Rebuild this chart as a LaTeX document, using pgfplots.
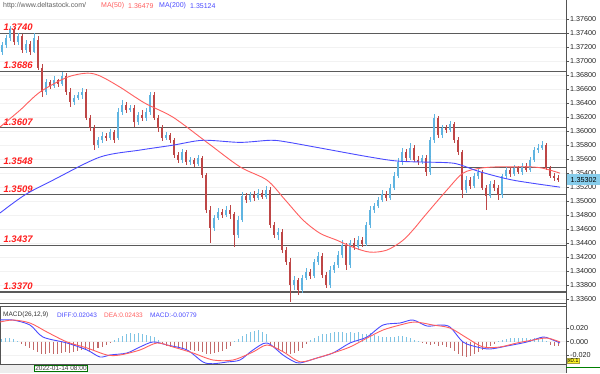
\documentclass[border=0pt]{standalone}
\usepackage{fontspec}
\setmainfont{Liberation Sans}
\usepackage{pgfplots}
\pgfplotsset{compat=1.18}
\usepackage{pgfplotstable}

\definecolor{upc}{RGB}{95,180,225}
\definecolor{dnc}{RGB}{190,70,70}
\definecolor{maA}{RGB}{255,95,95}
\definecolor{maB}{RGB}{75,75,255}
\definecolor{lvl}{RGB}{90,90,90}
\definecolor{lvltxt}{RGB}{255,30,30}
\definecolor{hup}{RGB}{125,195,228}
\definecolor{hdn}{RGB}{195,105,105}
\definecolor{pbox}{RGB}{135,205,235}

\pgfplotstableread{
x o h l c
2 1.3713 1.3728 1.3709 1.3723
6 1.3723 1.3738 1.3719 1.3733
10 1.3733 1.3750 1.3729 1.3745
14 1.3745 1.3748 1.3723 1.3728
18 1.3728 1.3740 1.3723 1.3736
22 1.3736 1.3739 1.3712 1.3716
26 1.3716 1.3730 1.3712 1.3725
30 1.3725 1.3729 1.3709 1.3713
34 1.3713 1.3740 1.3712 1.3733
38 1.3730 1.3736 1.3688 1.3690
42 1.3690 1.3696 1.3649 1.3656
46 1.3656 1.3675 1.3652 1.3670
50 1.3670 1.3673 1.3660 1.3665
54 1.3665 1.3679 1.3662 1.3673
58 1.3673 1.3675 1.3663 1.3667
62 1.3667 1.3685 1.3665 1.3679
66 1.3679 1.3683 1.3652 1.3656
70 1.3656 1.3662 1.3635 1.3642
74 1.3642 1.3652 1.3637 1.3648
78 1.3648 1.3656 1.3645 1.3652
82 1.3652 1.3662 1.3646 1.3656
86 1.3656 1.3660 1.3616 1.3619
90 1.3619 1.3623 1.3600 1.3605
94 1.3605 1.3609 1.3573 1.3580
98 1.3580 1.3592 1.3576 1.3587
102 1.3587 1.3599 1.3583 1.3593
106 1.3593 1.3597 1.3586 1.3590
110 1.3590 1.3603 1.3587 1.3599
114 1.3599 1.3602 1.3583 1.3587
118 1.3590 1.3633 1.3587 1.3627
122 1.3627 1.3645 1.3623 1.3637
126 1.3637 1.3642 1.3626 1.3630
130 1.3630 1.3637 1.3627 1.3633
134 1.3633 1.3637 1.3606 1.3613
138 1.3613 1.3627 1.3609 1.3623
142 1.3623 1.3630 1.3615 1.3619
146 1.3619 1.3633 1.3615 1.3627
150 1.3627 1.3656 1.3623 1.3652
154 1.3652 1.3656 1.3616 1.3619
158 1.3619 1.3623 1.3599 1.3605
162 1.3605 1.3609 1.3586 1.3590
166 1.3590 1.3599 1.3587 1.3595
170 1.3595 1.3597 1.3583 1.3587
174 1.3587 1.3590 1.3562 1.3566
178 1.3566 1.3570 1.3555 1.3559
182 1.3559 1.3575 1.3555 1.3570
186 1.3570 1.3573 1.3552 1.3556
190 1.3556 1.3563 1.3552 1.3559
194 1.3559 1.3562 1.3549 1.3553
198 1.3553 1.3566 1.3550 1.3562
202 1.3562 1.3565 1.3533 1.3537
206 1.3537 1.3540 1.3483 1.3487
210 1.3487 1.3493 1.3440 1.3462
214 1.3462 1.3480 1.3457 1.3476
218 1.3476 1.3490 1.3473 1.3484
222 1.3484 1.3489 1.3476 1.3480
226 1.3480 1.3493 1.3477 1.3487
230 1.3487 1.3494 1.3474 1.3481
234 1.3481 1.3484 1.3434 1.3452
238 1.3452 1.3479 1.3447 1.3473
242 1.3473 1.3513 1.3470 1.3507
246 1.3507 1.3512 1.3497 1.3502
250 1.3502 1.3513 1.3499 1.3509
254 1.3509 1.3514 1.3500 1.3505
258 1.3505 1.3517 1.3502 1.3512
262 1.3512 1.3516 1.3503 1.3506
266 1.3506 1.3522 1.3503 1.3516
270 1.3516 1.3520 1.3462 1.3466
274 1.3466 1.3470 1.3447 1.3452
278 1.3452 1.3462 1.3444 1.3456
282 1.3456 1.3460 1.3426 1.3430
286 1.3430 1.3434 1.3409 1.3413
290 1.3413 1.3419 1.3356 1.3380
294 1.3380 1.3393 1.3373 1.3387
298 1.3387 1.3390 1.3366 1.3373
302 1.3373 1.3394 1.3369 1.3390
306 1.3390 1.3404 1.3387 1.3399
310 1.3399 1.3403 1.3388 1.3393
314 1.3393 1.3417 1.3390 1.3413
318 1.3413 1.3427 1.3409 1.3422
322 1.3422 1.3426 1.3390 1.3394
326 1.3394 1.3399 1.3376 1.3380
330 1.3380 1.3407 1.3376 1.3401
334 1.3401 1.3413 1.3397 1.3409
338 1.3409 1.3429 1.3404 1.3423
342 1.3423 1.3444 1.3419 1.3437
346 1.3437 1.3440 1.3401 1.3409
350 1.3409 1.3444 1.3404 1.3440
354 1.3440 1.3447 1.3430 1.3434
358 1.3434 1.3450 1.3430 1.3444
362 1.3444 1.3449 1.3434 1.3439
366 1.3439 1.3470 1.3436 1.3466
370 1.3466 1.3493 1.3462 1.3487
374 1.3487 1.3497 1.3483 1.3493
378 1.3493 1.3506 1.3490 1.3502
382 1.3502 1.3516 1.3499 1.3510
386 1.3510 1.3514 1.3500 1.3505
390 1.3505 1.3524 1.3502 1.3519
394 1.3519 1.3542 1.3516 1.3536
398 1.3536 1.3562 1.3533 1.3556
402 1.3556 1.3576 1.3552 1.3570
406 1.3570 1.3575 1.3557 1.3562
410 1.3562 1.3583 1.3559 1.3576
414 1.3576 1.3580 1.3556 1.3559
418 1.3559 1.3565 1.3552 1.3556
422 1.3556 1.3566 1.3553 1.3562
426 1.3562 1.3566 1.3536 1.3542
430 1.3542 1.3592 1.3537 1.3587
434 1.3587 1.3625 1.3583 1.3619
438 1.3619 1.3622 1.3590 1.3595
442 1.3595 1.3609 1.3590 1.3605
446 1.3605 1.3609 1.3597 1.3602
450 1.3602 1.3615 1.3599 1.3610
454 1.3610 1.3613 1.3583 1.3587
458 1.3587 1.3592 1.3566 1.3570
462 1.3570 1.3573 1.3505 1.3516
466 1.3516 1.3536 1.3512 1.3530
470 1.3530 1.3535 1.3517 1.3522
474 1.3522 1.3540 1.3519 1.3536
478 1.3536 1.3547 1.3532 1.3542
482 1.3542 1.3545 1.3516 1.3519
486 1.3519 1.3523 1.3487 1.3507
490 1.3507 1.3529 1.3505 1.3524
494 1.3524 1.3530 1.3514 1.3519
498 1.3519 1.3523 1.3502 1.3509
502 1.3509 1.3539 1.3505 1.3536
506 1.3536 1.3549 1.3532 1.3545
510 1.3545 1.3549 1.3535 1.3539
514 1.3539 1.3552 1.3536 1.3547
518 1.3547 1.3550 1.3539 1.3542
522 1.3542 1.3555 1.3537 1.3550
526 1.3550 1.3555 1.3542 1.3545
530 1.3545 1.3563 1.3542 1.3559
534 1.3559 1.3577 1.3556 1.3573
538 1.3573 1.3581 1.3569 1.3576
542 1.3576 1.3586 1.3573 1.3580
546 1.3580 1.3583 1.3545 1.3547
550 1.3547 1.3550 1.3533 1.3536
554 1.3536 1.3540 1.3529 1.3533
558 1.3533 1.3537 1.3528 1.3530
}\candles

\pgfplotstableread{
x v
2 0.0045
6 0.0060
10 0.0060
14 0.0045
18 0.0008
22 -0.0030
26 -0.0060
30 -0.0090
34 -0.0120
38 -0.0150
42 -0.0180
46 -0.0180
50 -0.0165
54 -0.0180
58 -0.0180
62 -0.0165
66 -0.0150
70 -0.0165
74 -0.0150
78 -0.0135
82 -0.0120
86 -0.0120
90 -0.0135
94 -0.0120
98 -0.0090
102 -0.0075
106 -0.0045
110 -0.0015
114 0.0030
118 0.0060
122 0.0090
126 0.0120
130 0.0135
134 0.0120
138 0.0135
142 0.0120
146 0.0105
150 0.0090
154 0.0075
158 0.0030
162 -0.0030
166 -0.0060
170 -0.0075
174 -0.0090
178 -0.0105
182 -0.0105
186 -0.0120
190 -0.0120
194 -0.0135
198 -0.0135
202 -0.0150
206 -0.0180
210 -0.0180
214 -0.0165
218 -0.0150
222 -0.0135
226 -0.0105
230 -0.0060
234 0.0015
238 0.0045
242 0.0090
246 0.0120
250 0.0150
254 0.0165
258 0.0180
262 0.0150
266 0.0120
270 -0.0060
274 -0.0090
278 -0.0120
282 -0.0150
286 -0.0165
290 -0.0180
294 -0.0165
298 -0.0135
302 -0.0090
306 -0.0030
310 0.0030
314 0.0060
318 0.0090
322 0.0120
326 0.0120
330 0.0135
334 0.0150
338 0.0150
342 0.0150
346 0.0135
350 0.0150
354 0.0135
358 0.0150
362 0.0120
366 0.0120
370 0.0135
374 0.0105
378 0.0090
382 0.0075
386 0.0075
390 0.0075
394 0.0075
398 0.0090
402 0.0090
406 0.0075
410 0.0060
414 0.0030
418 0.0015
422 -0.0015
426 -0.0030
430 -0.0045
434 -0.0030
438 -0.0060
442 -0.0045
446 -0.0075
450 -0.0090
454 -0.0135
458 -0.0180
462 -0.0210
466 -0.0225
470 -0.0210
474 -0.0180
478 -0.0150
482 -0.0120
486 -0.0090
490 -0.0060
494 -0.0030
498 0.0015
502 0.0030
506 0.0045
510 0.0060
514 0.0060
518 0.0060
522 0.0060
526 0.0060
530 0.0045
534 0.0060
538 0.0060
542 0.0045
546 0.0015
550 -0.0045
554 -0.0060
558 -0.0060
}\hist

\newcommand{\lvlfont}{\fontsize{9.5}{10}\selectfont\bfseries\itshape}
\pgfplotsset{candle/.style={only marks, mark size=0pt, mark options={draw=none, fill=none},
  error bars/y dir=both, error bars/y explicit, error bars/error mark=none}}

\begin{document}
\begin{tikzpicture}[x=1pt,y=1pt]
\useasboundingbox (0,0) rectangle (600,373);
\fill[white] (0,0) rectangle (600,373);
\fill[gray!14] (0,0) rectangle (566,9);

% ---------------- main price panel ----------------
\begin{axis}[
  at={(0pt,373pt)}, anchor=north west,
  scale only axis, width=566pt, height=303pt,
  xmin=0, xmax=566, ymin=1.335428, ymax=1.378763,
  axis x line*=bottom, axis y line*=right,
  axis line style={-, draw=gray!65!black, line width=0.8pt},
  xtick=\empty,
  ytick={1.336,1.338,1.340,1.342,1.344,1.346,1.348,1.350,1.352,1.354,1.356,1.358,1.360,1.362,1.364,1.366,1.368,1.370,1.372,1.374,1.376},
  yticklabels={1.33600,1.33800,1.34000,1.34200,1.34400,1.34600,1.34800,1.35000,1.35200,1.35400,1.35600,1.35800,1.36000,1.36200,1.36400,1.36600,1.36800,1.37000,1.37200,1.37400,1.37600},
  tick align=outside, major tick length=3pt,
  ytick style={draw=gray!65!black, line width=0.5pt},
  yticklabel style={font=\fontsize{7.2}{8}\selectfont, inner sep=1pt, text=black!85},
  ymajorgrids, major grid style={draw=gray!10, line width=0.5pt},
]
% support/resistance levels
\addplot[lvl, line width=1.1pt] coordinates {(0,1.3740) (566,1.3740)} node[pos=0, anchor=south west, inner sep=1pt, xshift=2pt, yshift=1pt, text=lvltxt, font=\lvlfont] {1.3740};
\addplot[lvl, line width=1.1pt] coordinates {(0,1.3686) (566,1.3686)} node[pos=0, anchor=south west, inner sep=1pt, xshift=2pt, yshift=1pt, text=lvltxt, font=\lvlfont] {1.3686};
\addplot[lvl, line width=1.1pt] coordinates {(0,1.3605) (566,1.3605)} node[pos=0, anchor=south west, inner sep=1pt, xshift=2pt, yshift=1pt, text=lvltxt, font=\lvlfont] {1.3607};
\addplot[lvl, line width=1.1pt] coordinates {(0,1.3548) (566,1.3548)} node[pos=0, anchor=south west, inner sep=1pt, xshift=2pt, yshift=1pt, text=lvltxt, font=\lvlfont] {1.3548};
\addplot[lvl, line width=1.1pt] coordinates {(0,1.3509) (566,1.3509)} node[pos=0, anchor=south west, inner sep=1pt, xshift=2pt, yshift=1pt, text=lvltxt, font=\lvlfont] {1.3509};
\addplot[lvl, line width=1.1pt] coordinates {(0,1.3437) (566,1.3437)} node[pos=0, anchor=south west, inner sep=1pt, xshift=2pt, yshift=1pt, text=lvltxt, font=\lvlfont] {1.3437};
\addplot[lvl, line width=1.1pt] coordinates {(0,1.3370) (566,1.3370)} node[pos=0, anchor=south west, inner sep=1pt, xshift=2pt, yshift=1pt, text=lvltxt, font=\lvlfont] {1.3370};

% candle wicks and bodies
\addplot[candle, restrict expr to domain={\thisrow{c}-\thisrow{o}}{0:1},
  error bars/error bar style={line width=0.8pt, color=upc}]
  table[x=x, y expr={(\thisrow{h}+\thisrow{l})/2}, y error expr={(\thisrow{h}-\thisrow{l})/2}] {\candles};
\addplot[candle, restrict expr to domain={\thisrow{c}-\thisrow{o}}{-1:0},
  error bars/error bar style={line width=0.8pt, color=dnc}]
  table[x=x, y expr={(\thisrow{h}+\thisrow{l})/2}, y error expr={(\thisrow{h}-\thisrow{l})/2}] {\candles};
\addplot[candle, restrict expr to domain={\thisrow{c}-\thisrow{o}}{0:1},
  error bars/error bar style={line width=2.6pt, color=upc}]
  table[x=x, y expr={(\thisrow{o}+\thisrow{c})/2}, y error expr={abs(\thisrow{c}-\thisrow{o})/2}] {\candles};
\addplot[candle, restrict expr to domain={\thisrow{c}-\thisrow{o}}{-1:0},
  error bars/error bar style={line width=2.6pt, color=dnc}]
  table[x=x, y expr={(\thisrow{o}+\thisrow{c})/2}, y error expr={abs(\thisrow{c}-\thisrow{o})/2}] {\candles};

% MA(50)
\addplot[maA, line width=0.9pt, smooth] coordinates {
(0,1.3606) (20,1.3630) (40,1.3656) (67,1.3677) (87,1.3683) (100,1.3679) (120,1.3663)
(145,1.3640) (173,1.3620) (207,1.3584) (240,1.3549) (267,1.3530) (285,1.3502)
(303,1.3473) (320,1.3454) (337,1.3444) (353,1.3434) (370,1.3427) (387,1.3430)
(403,1.3444) (415,1.3462) (423,1.3476) (447,1.3516) (463,1.3540) (480,1.3547)
(497,1.3549) (513,1.3549) (530,1.3549) (543,1.3547) (560,1.3540)};
% MA(200)
\addplot[maB, line width=0.9pt, smooth] coordinates {
(0,1.3483) (25,1.3509) (53,1.3530) (100,1.3563) (140,1.3573) (173,1.3580) (203,1.3587)
(240,1.3584) (270,1.3587) (285,1.3585) (320,1.3576) (370,1.3563) (400,1.3557)
(447,1.3555) (460,1.3552) (480,1.3542) (513,1.3530) (560,1.3520)};

\coordinate (cp) at (axis cs:566,1.35302);
\end{axis}

% ---------------- MACD panel ----------------
\begin{axis}[
  at={(0pt,67pt)}, anchor=north west,
  scale only axis, width=566pt, height=58pt,
  xmin=0, xmax=566, ymin=-0.0334, ymax=0.0535,
  scaled y ticks=false,
  axis line style={draw=gray!65!black, line width=0.8pt},
  xtick=\empty,
  ytick={-0.02,0,0.02}, yticklabels={-0.020,0.000,0.020},
  ytick pos=right, yticklabel pos=right,
  tick align=outside, major tick length=3pt,
  ytick style={draw=gray!65!black, line width=0.5pt},
  yticklabel style={font=\fontsize{7.2}{8}\selectfont, inner sep=1pt, text=black!85},
  ymajorgrids, major grid style={draw=gray!10, line width=0.5pt},
]
\addplot[ycomb, hup, line width=1pt, restrict y to domain=0:1] table[x=x, y=v] {\hist};
\addplot[ycomb, hdn, line width=1pt, restrict y to domain=-1:0] table[x=x, y=v] {\hist};
% DIFF
\addplot[maB, line width=0.9pt, smooth] coordinates {
(0,0.0325) (13,0.0325) (30,0.0250) (43,0.0070) (67,-0.0019) (87,-0.0124) (100,-0.0229)
(110,-0.0199) (127,-0.0169) (140,-0.0079) (153,-0.0004) (167,-0.0049) (187,-0.0124)
(203,-0.0304) (213,-0.0330) (227,-0.0304) (240,-0.0274) (253,-0.0124) (267,-0.0019)
(283,-0.0199) (293,-0.0290) (300,-0.0319) (317,-0.0244) (333,-0.0169) (350,-0.0019)
(367,0.0070) (383,0.0250) (400,0.0280) (413,0.0325) (427,0.0235) (440,0.0250)
(450,0.0220) (463,-0.0004) (477,-0.0079) (490,-0.0109) (507,-0.0064) (527,-0.0004)
(543,0.0070) (553,0.0025) (560,-0.0019)};
% DEA
\addplot[maA, line width=0.9pt, smooth] coordinates {
(0,0.0295) (13,0.0325) (30,0.0280) (47,0.0145) (67,-0.0004) (87,-0.0094) (107,-0.0199)
(120,-0.0199) (140,-0.0124) (157,-0.0019) (173,-0.0079) (193,-0.0169) (213,-0.0274)
(233,-0.0274) (253,-0.0154) (267,-0.0049) (283,-0.0150) (300,-0.0300) (317,-0.0244)
(333,-0.0169) (350,-0.0079) (367,0.0055) (383,0.0175) (400,0.0250) (415,0.0295)
(433,0.0250) (450,0.0205) (467,0.0055) (483,-0.0079) (500,-0.0079) (517,-0.0019)
(533,0.0025) (547,0.0055) (560,-0.0004)};
\end{axis}

% right border
\draw[gray!65!black, line width=0.8pt] (566,0) -- (566,373);

% header texts
\node[anchor=west, inner sep=0pt, font=\fontsize{7}{8}\selectfont, text=gray!75!black] at (3,367) {http://www.deltastock.com/};
\node[anchor=west, inner sep=0pt, font=\fontsize{7}{8}\selectfont, text=maA] at (101,367) {MA(50)};
\node[anchor=west, inner sep=0pt, font=\fontsize{7}{8}\selectfont, text=maA] at (128,367) {1.36479};
\node[anchor=west, inner sep=0pt, font=\fontsize{7}{8}\selectfont, text=maB] at (159,367) {MA(200)};
\node[anchor=west, inner sep=0pt, font=\fontsize{7}{8}\selectfont, text=maB] at (190,367) {1.35124};

\node[anchor=west, inner sep=0pt, font=\fontsize{6.5}{7}\selectfont, text=black!80] at (3,58) {MACD(26,12,9)};
\node[anchor=west, inner sep=0pt, font=\fontsize{6.5}{7}\selectfont, text=maB] at (57,58) {DIFF:0.02043};
\node[anchor=west, inner sep=0pt, font=\fontsize{6.5}{7}\selectfont, text=maA] at (104,58) {DEA:0.02433};
\node[anchor=west, inner sep=0pt, font=\fontsize{6.5}{7}\selectfont, text=maB] at (150,58) {MACD:-0.00779};

% current price tag
\node[anchor=west, fill=pbox, inner sep=0pt, minimum height=11pt, minimum width=33pt, font=\fontsize{7.2}{8}\selectfont] at ([xshift=1pt]cp) {1.35302};

% MACD scale box and bottom
\node[anchor=north west, fill=yellow!85!white, draw=yellow!60!black, line width=0.3pt, inner sep=0.6pt, font=\fontsize{5.8}{6}\selectfont] at (567,15) {x0.1};
\draw[green!50!black, line width=0.6pt] (566,5.5) -- (600,5.5);

% date label
\node[draw=green!45!black, fill=white, line width=0.5pt, inner sep=0.8pt, font=\fontsize{6.5}{7}\selectfont, text=black!75] at (61,4.5) {2022-01-14 08:00};
\end{tikzpicture}
\end{document}
